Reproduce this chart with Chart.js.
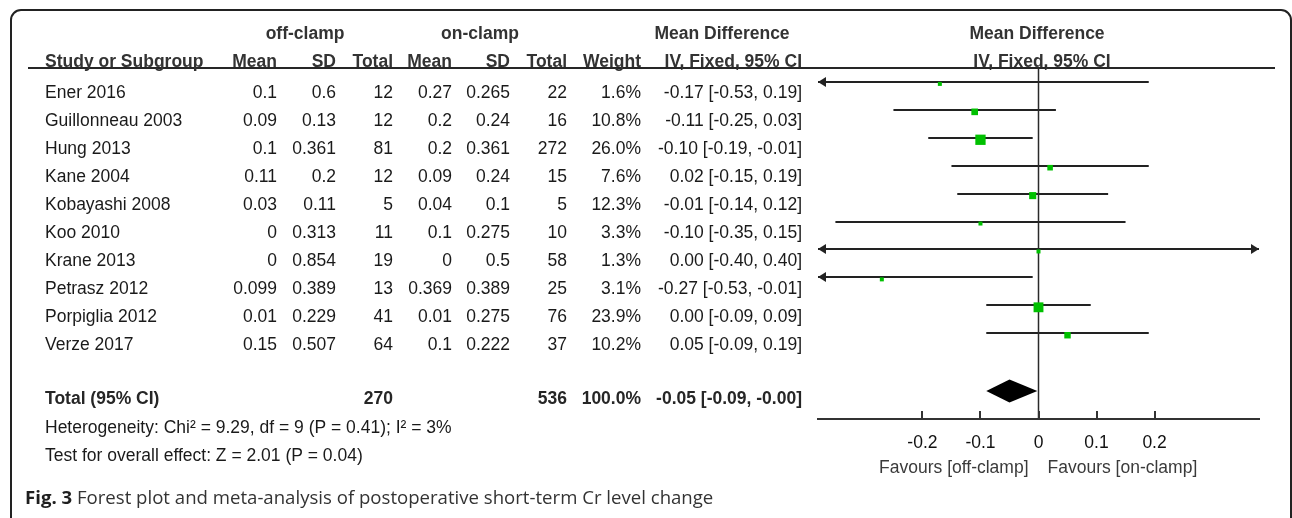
<!DOCTYPE html>
<html>
<head>
<meta charset="utf-8">
<title>Forest plot – postoperative short-term Cr level change</title>
<script src="https://cdn.jsdelivr.net/npm/chart.js@4.4.1/dist/chart.umd.min.js"></script>
<style>
  html, body { margin: 0; padding: 0; background: #ffffff; }
  canvas { display: block; }
</style>
</head>
<body>
<canvas id="forest" width="1292" height="518"></canvas>
<script>
// ---- study data (off-clamp vs on-clamp) ----
const studies   = ['Ener 2016', 'Guillonneau 2003', 'Hung 2013', 'Kane 2004', 'Kobayashi 2008',
                   'Koo 2010', 'Krane 2013', 'Petrasz 2012', 'Porpiglia 2012', 'Verze 2017'];
const offMean   = [0.1, 0.09, 0.1, 0.11, 0.03, 0, 0, 0.099, 0.01, 0.15];
const offSD     = [0.6, 0.13, 0.361, 0.2, 0.11, 0.313, 0.854, 0.389, 0.229, 0.507];
const offTotal  = [12, 12, 81, 12, 5, 11, 19, 13, 41, 64];
const onMean    = [0.27, 0.2, 0.2, 0.09, 0.04, 0.1, 0, 0.369, 0.01, 0.1];
const onSD      = [0.265, 0.24, 0.361, 0.24, 0.1, 0.275, 0.5, 0.389, 0.275, 0.222];
const onTotal   = [22, 16, 272, 15, 5, 10, 58, 25, 76, 37];
const weight    = [1.6, 10.8, 26.0, 7.6, 12.3, 3.3, 1.3, 3.1, 23.9, 10.2];
const meanDiff  = [-0.17, -0.11, -0.10, 0.02, -0.01, -0.10, 0.00, -0.27, 0.00, 0.05];
const ciLow     = [-0.53, -0.25, -0.19, -0.15, -0.14, -0.35, -0.40, -0.53, -0.09, -0.09];
const ciHigh    = [0.19, 0.03, -0.01, 0.19, 0.12, 0.15, 0.40, -0.01, 0.09, 0.19];

// ---- pooled estimate ----
const pooledOffTotal = 270;
const pooledOnTotal  = 536;
const pooledWeight   = 100.0;
const pooledMD       = -0.05;
const pooledLow      = -0.09;
const pooledHigh     = -0.002;
const heterogeneityText = 'Heterogeneity: Chi\u00B2 = 9.29, df = 9 (P = 0.41); I\u00B2 = 3%';
const overallText       = 'Test for overall effect: Z = 2.01 (P = 0.04)';

// ---- axis ----
const xTickValues = [-0.2, -0.1, 0, 0.1, 0.2];
const xTickLabels = ['-0.2', '-0.1', '0', '0.1', '0.2'];
const xMin = -0.38, xMax = 0.38;
const favourLeft  = 'Favours [off-clamp]';
const favourRight = 'Favours [on-clamp]';

const POOLED_ROW = 11;
const Y_TOP = -0.57;
const SANS = "'Liberation Sans', Arial, Helvetica, sans-serif";
const CAPTION_FONT = "'Open Sans', 'Noto Sans', sans-serif";
const FS = 17.5;
const CAP_FS = 18.6;

function fmtCI(m, lo, hi) {
  return m.toFixed(2) + ' [' + lo.toFixed(2) + ', ' + hi.toFixed(2) + ']';
}
// square marker area grows with study weight
function boxRadius(w) {
  const side = Math.max(4, 10.3 * Math.sqrt(w / 26));
  return side / Math.SQRT2;
}

function txt(ctx, s, x, y, align, bold, color, size, family) {
  ctx.font = (bold ? 'bold ' : '') + (size || FS) + 'px ' + (family || SANS);
  ctx.fillStyle = color || '#1a1a1a';
  ctx.textAlign = align || 'left';
  ctx.textBaseline = 'middle';
  ctx.fillText(s, x, y);
}

function arrowHead(ctx, tipX, y, dir) {
  ctx.beginPath();
  ctx.moveTo(tipX, y);
  ctx.lineTo(tipX - dir * 8, y - 5);
  ctx.lineTo(tipX - dir * 8, y + 5);
  ctx.closePath();
  ctx.fill();
}

const forestPlugin = {
  id: 'forestTable',
  beforeDatasetsDraw(chart) {
    const { ctx, scales: { x, y } } = chart;
    ctx.save();
    ctx.strokeStyle = '#222222';
    ctx.fillStyle = '#222222';
    ctx.lineWidth = 2;
    studies.forEach((s, i) => {
      const py = Math.round(y.getPixelForValue(i) - 2);
      const x1 = x.getPixelForValue(Math.max(ciLow[i], xMin));
      const x2 = x.getPixelForValue(Math.min(ciHigh[i], xMax));
      ctx.beginPath();
      ctx.moveTo(x1, py);
      ctx.lineTo(x2, py);
      ctx.stroke();
      if (ciLow[i] < xMin) arrowHead(ctx, x1, py, -1);
      if (ciHigh[i] > xMax) arrowHead(ctx, x2, py, 1);
    });
    ctx.restore();
  },
  afterDatasetsDraw(chart) {
    const { ctx, scales: { x, y } } = chart;
    // pooled diamond
    const yc = y.getPixelForValue(POOLED_ROW);
    ctx.save();
    ctx.fillStyle = '#000000';
    ctx.beginPath();
    ctx.moveTo(x.getPixelForValue(pooledLow), yc);
    ctx.lineTo(x.getPixelForValue(pooledMD), yc - 11.5);
    ctx.lineTo(x.getPixelForValue(pooledHigh), yc);
    ctx.lineTo(x.getPixelForValue(pooledMD), yc + 11.5);
    ctx.closePath();
    ctx.fill();
    ctx.restore();
  },
  afterDraw(chart) {
    const { ctx, chartArea: a, scales: { x, y } } = chart;
    ctx.save();

    // figure frame
    ctx.strokeStyle = '#222222';
    ctx.lineWidth = 2;
    ctx.beginPath();
    ctx.moveTo(11, 518);
    ctx.lineTo(11, 20);
    ctx.arcTo(11, 10, 21, 10, 10);
    ctx.lineTo(1281, 10);
    ctx.arcTo(1291, 10, 1291, 20, 10);
    ctx.lineTo(1291, 518);
    ctx.stroke();

    // header rule
    ctx.strokeStyle = '#262626';
    ctx.lineWidth = 2;
    ctx.beginPath();
    ctx.moveTo(28, 68);
    ctx.lineTo(1275, 68);
    ctx.stroke();

    // tick marks pointing up from the axis
    ctx.lineWidth = 2;
    ctx.strokeStyle = '#333333';
    xTickValues.forEach(v => {
      const px = Math.round(x.getPixelForValue(v));
      ctx.beginPath();
      ctx.moveTo(px, a.bottom);
      ctx.lineTo(px, a.bottom - 8);
      ctx.stroke();
    });

    // column headers
    const H = '#333333';
    txt(ctx, 'off-clamp', 305, 34.3, 'center', true, H);
    txt(ctx, 'on-clamp', 480, 34.3, 'center', true, H);
    txt(ctx, 'Mean Difference', 722, 34.3, 'center', true, H);
    txt(ctx, 'Mean Difference', 1037, 34.3, 'center', true, H);
    const h2 = 62;
    txt(ctx, 'Study or Subgroup', 45, h2, 'left', true, H);
    txt(ctx, 'Mean', 277, h2, 'right', true, H);
    txt(ctx, 'SD', 336, h2, 'right', true, H);
    txt(ctx, 'Total', 393, h2, 'right', true, H);
    txt(ctx, 'Mean', 452, h2, 'right', true, H);
    txt(ctx, 'SD', 510, h2, 'right', true, H);
    txt(ctx, 'Total', 567, h2, 'right', true, H);
    txt(ctx, 'Weight', 641, h2, 'right', true, H);
    txt(ctx, 'IV, Fixed, 95% CI', 802, h2, 'right', true, H);
    txt(ctx, 'IV, Fixed, 95% CI', 1042, h2, 'center', true, H);

    // study rows
    studies.forEach((s, i) => {
      const ty = y.getPixelForValue(i) + 9.5;
      txt(ctx, s, 45, ty, 'left');
      txt(ctx, String(offMean[i]), 277, ty, 'right');
      txt(ctx, String(offSD[i]), 336, ty, 'right');
      txt(ctx, String(offTotal[i]), 393, ty, 'right');
      txt(ctx, String(onMean[i]), 452, ty, 'right');
      txt(ctx, String(onSD[i]), 510, ty, 'right');
      txt(ctx, String(onTotal[i]), 567, ty, 'right');
      txt(ctx, weight[i].toFixed(1) + '%', 641, ty, 'right');
      txt(ctx, fmtCI(meanDiff[i], ciLow[i], ciHigh[i]), 802, ty, 'right');
    });

    // pooled row
    const tt = y.getPixelForValue(POOLED_ROW) + 8.5;
    const B = '#262626';
    txt(ctx, 'Total (95% CI)', 45, tt, 'left', true, B);
    txt(ctx, String(pooledOffTotal), 393, tt, 'right', true, B);
    txt(ctx, String(pooledOnTotal), 567, tt, 'right', true, B);
    txt(ctx, pooledWeight.toFixed(1) + '%', 641, tt, 'right', true, B);
    txt(ctx, fmtCI(pooledMD, pooledLow, pooledHigh), 802, tt, 'right', true, B);

    txt(ctx, heterogeneityText, 45, 428.5, 'left');
    txt(ctx, overallText, 45, 456, 'left');

    // favours labels
    const zx = x.getPixelForValue(0);
    txt(ctx, favourLeft, zx - 10, 468.5, 'right', false, '#3a3a3a');
    txt(ctx, favourRight, zx + 9, 468.5, 'left', false, '#3a3a3a');

    // caption
    ctx.font = 'bold ' + CAP_FS + 'px ' + CAPTION_FONT;
    const figW = ctx.measureText('Fig. 3').width;
    txt(ctx, 'Fig. 3', 25, 499, 'left', true, '#1f1f1f', CAP_FS, CAPTION_FONT);
    txt(ctx, ' Forest plot and meta-analysis of postoperative short-term Cr level change',
        25 + figW, 499, 'left', false, '#333333', CAP_FS, CAPTION_FONT);

    ctx.restore();
  }
};

new Chart(document.getElementById('forest'), {
  type: 'scatter',
  data: {
    datasets: [
      {
        label: 'Mean difference',
        data: studies.map((s, i) => ({ x: meanDiff[i], y: i })),
        pointStyle: 'rect',
        pointRadius: weight.map(boxRadius),
        pointHoverRadius: weight.map(boxRadius),
        backgroundColor: '#00c000',
        borderWidth: 0
      },
      {
        label: 'No effect',
        data: [{ x: 0, y: Y_TOP }, { x: 0, y: 12 }],
        showLine: true,
        pointRadius: 0,
        borderColor: '#2a2a2a',
        borderWidth: 1.5
      }
    ]
  },
  options: {
    responsive: false,
    animation: false,
    devicePixelRatio: 1,
    layout: { padding: { left: 818, right: 33, top: 68, bottom: 0 } },
    plugins: { legend: { display: false }, tooltip: { enabled: false } },
    scales: {
      x: {
        type: 'linear',
        min: xMin,
        max: xMax,
        afterBuildTicks: scale => { scale.ticks = xTickValues.map(v => ({ value: v })); },
        afterFit: scale => { scale.height = 99; },
        ticks: {
          callback: (v) => xTickLabels[xTickValues.indexOf(v)],
          color: '#111111',
          padding: 14,
          maxRotation: 0,
          autoSkip: false,
          font: { family: SANS, size: FS }
        },
        grid: { display: false, drawTicks: false },
        border: { display: true, color: '#333333', width: 2 }
      },
      y: {
        type: 'linear',
        reverse: true,
        min: Y_TOP,
        max: 12,
        display: false
      }
    }
  },
  plugins: [forestPlugin]
});
</script>
</body>
</html>
